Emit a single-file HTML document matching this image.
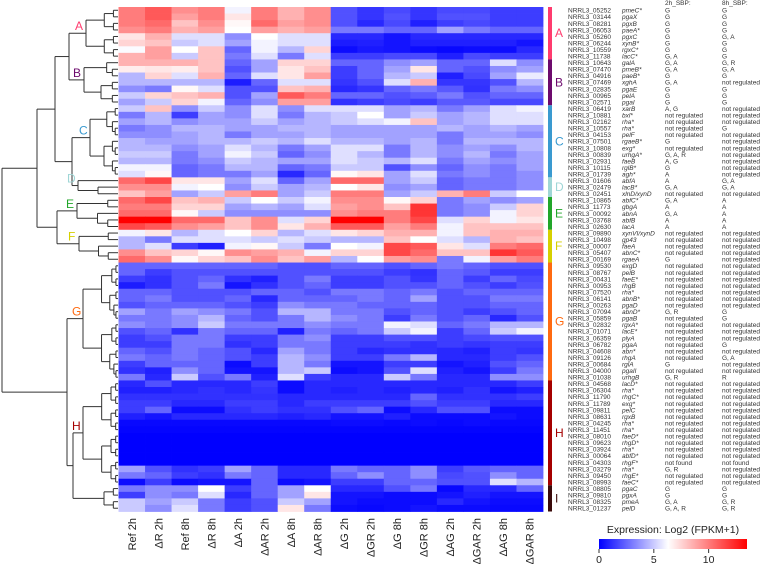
<!DOCTYPE html>
<html><head><meta charset="utf-8"><style>
html,body{margin:0;padding:0;background:#fff;}
svg{display:block;font-family:"Liberation Sans",sans-serif;}
</style></head><body>
<svg id="chart" width="760" height="564" viewBox="0 0 760 564" xmlns="http://www.w3.org/2000/svg">
<g id="dendro"></g>
<g id="cells"></g>
<g id="clusterbar"></g>
<g id="xlabels"></g>
<g id="genes"></g>
<g id="legend"></g>
</svg>
<script>
const columns=["Ref 2h","ΔR 2h","Ref 8h","ΔR 8h","ΔA 2h","ΔAR 2h","ΔA 8h","ΔAR 8h","ΔG 2h","ΔGR 2h","ΔG 8h","ΔGR 8h","ΔAG 2h","ΔGAR 2h","ΔAG 8h","ΔGAR 8h"];
const geneIds=["05252","03144","08281","06053","05260","06244","10559","11738","10643","07470","04916","07469","02835","00965","02571","06419","10881","02162","10557","04153","07501","10808","00839","02931","10115","01739","01606","02479","02451","10865","11773","00092","03768","02630","09890","10498","00007","05407","00169","09530","08767","00431","00953","07520","06141","00263","07094","05859","02832","01071","06359","06782","04608","09126","00684","04000","01038","04568","06304","11790","11789","09811","08631","04245","11451","08010","09623","03924","00064","04303","03279","09450","08993","08805","09810","08325","01237"];
const geneNames=["pmeC*","pgaX","pgxB","paeA*","pgxC","xynB*","rgxC*","lacC*","galA","pmeB*","paeB*","xghA","pgaE","pelA","pgaI","xarB","bxl*","rha*","rha*","pelF","rgaeB*","exg*","urhgA*","faeB","rglB*","agh*","abfA","lacB*","xlnD/xynD","abfC*","gbgA","abnA","abfB","lacA","xynVI/xynD","gp43","faeA","abnC*","rgaeA","exgD","pelB","faeE*","rhgB","rha*","abnB*","pgaD","abnD*","pgaB","rgxA*","lacE*","plyA","pgaA","abn*","rhgA","rglA","pgaII","urhgB","lacD*","rha*","rhgC*","exg*","pelC","rgxB","rha*","rha*","faeD*","rhgD*","rha*","abfD*","rhgF*","rha*","rhgE*","faeC*","pgaC","pgxA","pmeA","pelD"];
const NR="not regulated";
const sbp2h=["G","G","G","G","G","G","G","G, A","G, A","G, A","G","G, A","G","G","G","A, G",NR,NR,NR,NR,"G",NR,"G, A, R","A, G","G","A","A","G, A",NR,"G, A","A","G, A","A","A",NR,NR,NR,NR,"G",NR,NR,NR,NR,NR,NR,NR,"G, R",NR,NR,NR,NR,NR,NR,NR,"G",NR,"G, R",NR,NR,NR,NR,NR,NR,NR,NR,NR,NR,NR,NR,"not found","G, R",NR,NR,"G","G","G, A","G, A, R"];
const sbp8h=["G","G","G","G","G, A","G","G","G","G, R","G, A","G",NR,"G","G","G",NR,NR,NR,"G",NR,NR,NR,NR,NR,NR,NR,"G, A","G, A",NR,"A","A","A","A","A",NR,NR,NR,NR,NR,NR,NR,NR,NR,NR,NR,NR,"G","G",NR,NR,NR,"G",NR,"G, A",NR,NR,"R",NR,NR,NR,NR,NR,NR,NR,NR,NR,NR,NR,NR,"not found",NR,NR,NR,"G","G","G, R","G, R"];
const values=[
[10,11,9.5,10,6,10,8.5,9.5,2,1.3,1.8,1.3,1.8,1.8,1.5,1.5],
[10,11,9,10,7,10,8.5,9.5,2,1.3,2,1.3,2,2,1.5,1.5],
[10,10.5,8,9.5,6.5,10.5,9,9.5,2,1,1.8,0.8,1.5,1.8,1.5,1.5],
[9.5,10,8.5,9,6.3,9,8.5,9,3,3,2.5,2.5,4,3,2.5,2.5],
[7,8.5,5.5,5.5,3.5,6.3,5.5,5.5,1,1,0.5,1,1,1,1,1],
[7.5,8,5,5.5,4,6,5.5,5.5,0.7,0.8,0.5,0.8,0.8,0.8,0.8,0.5],
[6.2,9,6.3,8,2.5,6,4.5,7.5,0.3,0.6,0.5,0.3,0.2,0.3,0.3,1],
[8.5,9,5,8,3,5.5,3,5.5,1.5,1.5,1.8,1.8,0.8,1.8,1.5,1.5],
[8.5,8.5,8.5,8,2.5,4,7.5,7.5,2.5,2.5,3.5,4,2.5,2.5,5.5,3.5],
[6.8,7,6.8,8,2,4,7,8,1.5,2.5,4,7,2.5,2,3.5,4],
[4.5,7.5,5.5,8.5,2.5,5.5,7,9,1.5,2.5,4.5,5,0.8,1.8,4,5.8],
[4.5,4.5,4.5,4.5,0.7,2.5,5.5,5.5,1.3,2,5.5,8.5,1.3,1.3,2,4.5],
[3.5,3,6.5,5.5,2,2,8,8.5,1,1.3,2.5,3,2.2,1.2,3,3.5],
[5,7.5,8,8.5,2,4,11,10,2.5,2.5,2,2.3,3,2,2.5,2.5],
[4,5,7.5,6,2.5,3.5,9,9,1.2,1.5,1.8,1.5,2.2,2.2,1.8,1.8],
[5,8,3.5,5,3.5,5.5,3.5,5.5,5.5,5.5,4,4.5,3,4,5.5,6],
[3,4.5,1.5,4,3.5,5.5,3,4.5,5,6.3,4,5,4,4.5,5.5,5.5],
[4,4.5,3.5,4,4,5,4,4.5,5,5.5,6,8,4,4.5,5.5,5.5],
[3,3.5,4.5,4.5,4,4,4.5,4.5,4,4,4,4,4.5,4,4.5,4],
[3.5,3.5,4,4.5,3,4,4,4.5,4,4,4,4,3,4,4,3.5],
[4.5,4,4,4.5,4.5,5,4.5,5.5,4.5,4.5,4,4.5,3,4.5,4.5,4.5],
[4.5,4.5,3.5,4,5.5,4.5,3,4,5.5,5.5,3,4.5,3.5,4,3.5,4.5],
[5,5,3,4,6,5,2.5,3.5,5.5,4.5,3,4.5,3.5,4.5,3,4],
[4.5,4.5,3,3.5,5,4.5,4,4,5.5,5,4.5,5.5,3,4,3.5,4],
[6,6,2.5,3,4.5,4.5,2.5,3,5,5,2,3.5,2.5,3.5,3,4],
[5.5,6.5,2.5,3,3,4,1,2.5,6.5,7,4,5.5,3,3.5,3,3.5],
[10.5,11.5,7,7,4,5.5,2.5,4,10.5,10.5,4,5,2.5,3,3,3.5],
[9.5,9.5,6,6.3,3.5,5,4,4.5,6.3,7,3.5,4,2.5,3,3,3.5],
[8,9,4,5,9,10,4,5,10,10,4,5,8.5,10,5,6.3],
[10.5,11.5,8,8.5,5,6.3,5,6,9.5,9.5,6.5,7.5,3,4,3.5,4],
[10,10,7.5,7.5,4,4.5,4,5.5,9,9.5,8,12,3,3.5,5,7.5],
[10.5,10.5,6.5,5,3.5,3.5,3.5,3.5,9.5,10,10,12,3,3.5,6,7.5],
[13.5,13.5,10.5,10.5,8,9.5,5.5,7.5,13.5,13.5,10,11.5,5.5,7.5,6,7],
[11.5,11,9.5,9,8,9.5,7,8.5,11,11,9,10,6,8,8,8],
[6,7,4.5,5.5,6.3,7.5,4.5,5.5,7,7.5,8.5,8.5,6,8,8.5,8.5],
[4.5,3,5.5,5.5,5.5,5,5.5,5,4.5,4.5,8,6.3,5.5,4.5,8.5,8],
[4.5,5.5,1.5,0.8,6,6.5,5,3,6.3,6,11.5,11,7,5.5,10,10.5],
[9.5,8,7.5,6.5,9.5,9,8.5,6,7.5,7.5,11.5,10.5,8,8,12,11],
[10.5,9.5,6.5,7.5,8,9.5,8,9,4.5,6.3,9,9.5,3,6,9,10],
[2.5,2.5,2.5,2.5,2.5,2.5,2,2,2.5,2.5,2,2.5,3,2.5,2,2],
[2.5,1.5,2,2,2,2,2,2,2,2,1.5,1.2,2.5,2.2,1.5,1.5],
[1.5,1.2,2,2.5,1.2,0.8,2,3,1.5,1.5,2,1.3,2.5,1.5,2.5,1.8],
[0.7,1.2,2,3,0.5,1.2,2,2.5,1.5,1.5,2,2,2.5,2,1.5,2],
[2.5,2.5,2,2,2,2.5,2.5,2,3,3,2.5,3,2,2.5,2.5,2.5],
[2.5,3,2,2,2.5,1,2.5,2.5,2.5,3,2.5,4,2,2,3,3],
[2,2.5,2.5,2.5,2,1.5,3.5,3,3,2.5,2.5,2.5,2,2,2.5,2.5],
[4,3,4,3.5,3,2,4.5,4.5,3,3,2,2.5,2,1.5,2,2.5],
[3,3,3.5,4.5,2.5,2,3,4.5,3.5,3,1.5,3,2,2.5,1,2],
[3.5,3,3.5,5,3,3,3,3.5,3,3,6,5.5,2.5,3,4.5,4.5],
[2,2.5,1.2,3,2.5,2.5,0.8,3,2.5,3,5,6,1.5,2.5,5,6],
[1.5,2,3,3,1.5,1.5,3,3.5,1.5,1.5,2,2,1.5,1.8,2,2],
[1.5,1.5,3,3,1.2,1.5,3,3,1.5,1.5,1.5,1.2,1.5,1.3,1.5,1.5],
[2.5,2,3,2.5,2,1,4,3,1.5,1,1.2,1.2,1,0.8,1.5,1.3],
[3,2.5,3,2.5,2,1.5,4.5,3.5,1.5,1.5,3,4.5,1,1,1.5,2],
[1.5,2.5,2.5,2.5,0.3,1.5,4.5,3,0.5,0.5,1.5,1.5,0.5,0.8,2,2.5],
[1.2,0.8,3.5,2.5,0.5,0.5,4.5,5,0.3,0.5,2,5.5,0.8,0.5,1.5,3],
[3,1,5,2,3,0.8,5.5,1.5,1,1,5,3,1,1,3.5,3.5],
[1,2,1,1,1,1.5,0.3,1,1,1,1,1,1,1,1,1.5],
[0.8,0.8,1,1.2,1,1.3,0.3,1,0.8,1,0.8,1,0.8,1.2,0.5,0.8],
[1.2,1.2,1.2,1.2,1.2,1.2,1,1,1,1,1,2.5,1.2,1.2,1.2,1.5],
[1.5,1.5,1,1,1.5,1.5,1,1.5,1.5,1.5,1.5,2,1.5,1.5,1,1],
[1.5,2.5,0.3,0.3,1.2,1.5,1.2,1.2,2,2.5,0.3,1,2,2,0.3,0.3],
[0.8,0.5,1,1,1,1,0.8,1,0.5,0.5,0.8,0.3,0.3,0.3,0.5,0.3],
[0.2,0.2,0.2,0.2,0.2,0.2,0.2,0.2,0.3,0.3,0.2,0.3,0.2,0.3,0.2,0.2],
[0.1,0.1,0.1,0.1,0.1,0.1,0.1,0.1,0.1,0.1,0.1,0.1,0.1,0.1,0.1,0.1],
[0,0,0,0,0,0,0,0,0,0,0,0,0,0,0,0],
[0,0,0,0,0,0,0,0,0,0,0,0,0,0,0,0],
[0,0,0,0,0,0,0,0,0,0,0,0,0,0,0,0],
[0,0,0,0,0,0,0,0,0,0,0,0,0,0,0,0],
[0,0,0,0,0,0,0,0,0,0,0,0,0,0,0,0],
[4,2,1.2,1.5,4,2.5,1,1,3,2.5,2.5,3.5,1.5,2.2,2.5,2.5],
[3,2.5,1.5,1.2,3,2.5,1,1,2.5,3.5,2.5,3.5,1.8,2,3.5,2.5],
[0.3,1.5,0.3,0.5,0.5,2.5,0.3,0.5,1.5,1.5,2.5,2.5,2,2,5.5,4.5],
[3,3.5,3.5,6.3,1.5,2.5,4,6.3,1,1,2,3,0.2,1,1,2.5],
[1.5,3.5,3,5.5,1,2.5,4,7,0.5,0.5,0.3,0.3,0.5,0.8,0.5,0.5],
[5,4,5,3,1.5,2,5,4,0.5,0.3,0.3,0.3,1,0.5,0.3,0.3],
[5,3.5,5.5,3,1.5,2,7,3,0.3,0.2,0.3,0.5,0.3,0.3,0.2,0.2]
];
const clusterNames=["A","B","C","D","E","F","G","H","I"];
const clusterStart=[0,8,15,26,29,34,39,57,73];
const clusterEnd=[7,14,25,28,33,38,56,72,76];
const clusterColors=["#ff3b6e","#6d0a6d","#3a9ad0","#9fd6d6","#22a62a","#d6d000","#ff6a10","#a50000","#3a0a0a"];
const legendTicks=[0,5,10];

const NS="http://www.w3.org/2000/svg";
const X0=118.5,X1=543,Y0=7,Y1=511.5;
const cw=(X1-X0)/columns.length, rh=(Y1-Y0)/values.length;
function xCol(i){return X0+i*cw;}
function yRow(i){return Y0+i*rh;}
const VMID=6.3,VMAX=13.5;
function color(v){
  let r,g,b;
  if(v<=VMID){const t=Math.max(0,v/VMID);r=Math.round(255*t);g=r;b=255;}
  else{const t=Math.min(1,(v-VMID)/(VMAX-VMID));r=255;g=Math.round(255*(1-t));b=g;}
  return `rgb(${r},${g},${b})`;
}
function mk(tag,attrs,parent){const e=document.createElementNS(NS,tag);for(const k in attrs)e.setAttribute(k,attrs[k]);parent.appendChild(e);return e;}

// cells
const cells=document.getElementById('cells');
values.forEach((row,ri)=>row.forEach((v,ci)=>{
  const r=mk('rect',{x:xCol(ci).toFixed(2),y:yRow(ri).toFixed(2),width:(cw+0.4).toFixed(2),height:(rh+0.4).toFixed(2),fill:color(v)},cells);
  
  
}));

// cluster bar
const cb=document.getElementById('clusterbar');
clusterNames.forEach((n,i)=>{
  const y=yRow(clusterStart[i]),h=yRow(clusterEnd[i]+1)-y;
  const r=mk('rect',{x:548,y:y.toFixed(2),width:4,height:h.toFixed(2),fill:clusterColors[i]},cb);
  
  
  const t=mk('text',{x:555,y:(y+h/2+4).toFixed(1),fill:clusterColors[i],'font-size':12},cb);
  t.textContent=n;
  
  
});

// x labels
const xl=document.getElementById('xlabels');
columns.forEach((c,i)=>{
  const cx=xCol(i)+cw/2+4;
  const t=mk('text',{x:0,y:0,transform:`translate(${cx.toFixed(1)},518) rotate(-90)`,'text-anchor':'end','font-size':11,fill:'#222'},xl);
  t.textContent=c;
  
  
});

// gene table
const gt=document.getElementById('genes');
[[665,"2h_SBP:"],[722,"8h_SBP:"]].forEach(([x,s])=>{
  const t=mk('text',{x:x,y:5,'font-size':6.5,fill:'#333'},gt);t.textContent=s;
  
  
});
geneIds.forEach((g,i)=>{
  const y=(yRow(i)+rh/2+2.4).toFixed(1);
  const a=mk('text',{x:568,y:y,'font-size':6.5,fill:'#333'},gt);a.textContent="NRRL3_"+g;
  
  
  const b=mk('text',{x:622,y:y,'font-size':6.5,'font-style':'italic',fill:'#333'},gt);b.textContent=geneNames[i];
  
  
  const c=mk('text',{x:665,y:y,'font-size':6.5,fill:'#333'},gt);c.textContent=sbp2h[i];
  
  
  const d=mk('text',{x:722,y:y,'font-size':6.5,fill:'#333'},gt);d.textContent=sbp8h[i];
  
  
});

// dendrogram
const dg=document.getElementById('dendro');
const LEAFX=118;
function line(x1,y1,x2,y2){const l=mk('line',{x1:x1,y1:y1,x2:x2,y2:y2,stroke:'#333','stroke-width':1},dg);
  
  }
function sub(a,b,rootX,N){ // returns y of node; node drawn at x
  const n=b-a+1;
  if(n===1)return {y:yRow(a)+rh/2,x:LEAFX};
  const x= n===N?rootX:LEAFX-(LEAFX-rootX)*(n-1)/(N-1);
  const m=a+Math.floor(n/2)-1;
  const L=sub(a,m,rootX,N),R=sub(m+1,b,rootX,N);
  line(x,L.y,x,R.y);line(x,L.y,L.x,L.y);line(x,R.y,R.x,R.y);
  return {y:(L.y+R.y)/2,x:x};
}
const cx=[86,84,90,78,77,79,83,83,104];
const nodes=clusterNames.map((n,i)=>sub(clusterStart[i],clusterEnd[i],cx[i],clusterEnd[i]-clusterStart[i]+1));
function join(A,B,x){line(x,A.y,x,B.y);line(x,A.y,A.x,A.y);line(x,B.y,B.x,B.y);return {y:(A.y+B.y)/2,x:x};}
const AB=join(nodes[0],nodes[1],69),CD=join(nodes[2],nodes[3],72),ABCD=join(AB,CD,55);
const EF=join(nodes[4],nodes[5],57),TOP=join(ABCD,EF,37);
const HI=join(nodes[7],nodes[8],73),BOT=join(nodes[6],HI,67);
join(TOP,BOT,2);
clusterNames.slice(0,8).forEach((n,i)=>{
  const t=mk('text',{x:cx[i]-11,y:(nodes[i].y-3).toFixed(1),fill:clusterColors[i],'font-size':12},dg);
  t.textContent=n;
  
  
});

// legend
const lg=document.getElementById('legend');
const defs=mk('defs',{},lg);
const grad=mk('linearGradient',{id:'lgGrad',x1:0,x2:1,y1:0,y2:0},defs);
[0,VMID,VMAX].forEach(v=>mk('stop',{offset:(v/VMAX).toFixed(3),'stop-color':color(v)},grad));
const LX0=599,LX1=747;
function lx(v){return LX0+(LX1-LX0)*v/VMAX;}
const tt=mk('text',{x:673,y:533,'text-anchor':'middle','font-size':10.5,fill:'#222'},lg);tt.textContent="Expression: Log2 (FPKM+1)";

const bar=mk('rect',{x:LX0,y:539,width:LX1-LX0,height:10,fill:'url(#lgGrad)'},lg);

legendTicks.forEach(v=>{
  const l=mk('line',{x1:lx(v),x2:lx(v),y1:549,y2:553,stroke:'#333'},lg);
  
  const t=mk('text',{x:lx(v),y:563,'text-anchor':'middle','font-size':10.5,fill:'#222'},lg);t.textContent=v;
  
});
</script>
</body></html>
